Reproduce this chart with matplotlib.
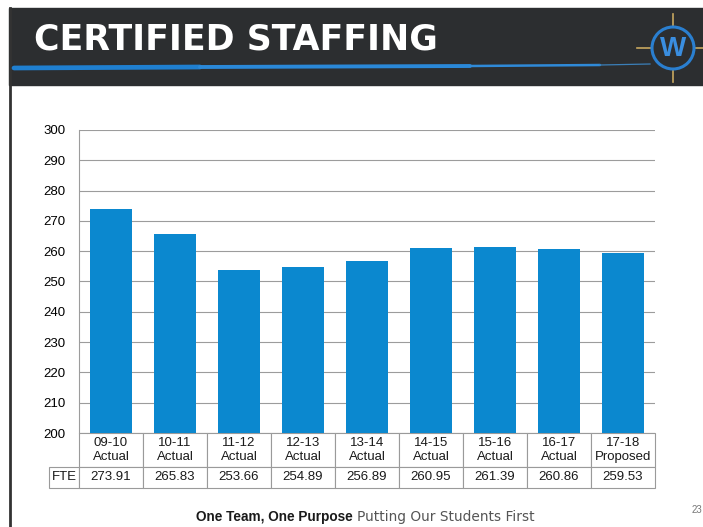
"""Certified staffing FTE by school year, bar chart with data table."""

import matplotlib
matplotlib.use("Agg")
import matplotlib.pyplot as plt
from matplotlib.patches import Rectangle, Circle

plt.rcParams["font.family"] = ["Liberation Sans", "DejaVu Sans"]

years = ["09-10", "10-11", "11-12", "12-13", "13-14", "14-15", "15-16", "16-17", "17-18"]
status = ["Actual"] * 8 + ["Proposed"]
fte = [273.91, 265.83, 253.66, 254.89, 256.89, 260.95, 261.39, 260.86, 259.53]
y_ticks = list(range(200, 301, 10))

BAR_COLOR = "#0b88cf"
HEADER_COLOR = "#2c2e30"

W, H = 703, 527
fig = plt.figure(figsize=(W / 100, H / 100), dpi=100)
fig.patch.set_facecolor("white")

# page decoration layer in pixel coordinates
deco = fig.add_axes([0, 0, 1, 1])
deco.set_xlim(0, W)
deco.set_ylim(H, 0)
deco.axis("off")

deco.add_patch(Rectangle((9, 8), W - 9, 77, color=HEADER_COLOR, zorder=1))
deco.plot([10, 10], [8, H], color="#333333", lw=2, zorder=2)
deco.text(34, 40, "CERTIFIED STAFFING", color="white", fontsize=25,
          family="DejaVu Sans", fontweight="bold", va="center", ha="left", zorder=3)

# blue brush streak
deco.plot([14, 200], [68, 67], color="#1f7fd0", lw=3.4, solid_capstyle="round", zorder=2)
deco.plot([200, 470], [67, 66], color="#2a88d8", lw=2.8, solid_capstyle="round", zorder=2)
deco.plot([470, 600], [66, 65], color="#2f8ad8", lw=1.8, solid_capstyle="round", zorder=2)
deco.plot([600, 650], [65, 64], color="#3b7fb8", lw=0.9, zorder=2)

# logo
cx, cy = 673, 48
deco.plot([cx, cx], [14, 82], color="#c8a860", lw=1.2, zorder=2)
deco.plot([cx - 36, cx + 36], [cy, cy], color="#c8a860", lw=1.2, zorder=2)
deco.add_patch(Circle((cx, cy), 21, facecolor=HEADER_COLOR, edgecolor="#2a7fd0", lw=2.2, zorder=3))
deco.text(cx, cy + 1, "W", color="#3a8ee0", fontsize=20, fontweight="bold",
          ha="center", va="center", zorder=4)

# footer
deco.text(353, 517, "One Team, One Purpose", fontsize=9.8, fontweight="bold",
          color="#1a1a1a", ha="right", va="center")
deco.text(357, 517, "Putting Our Students First", fontsize=9.9,
          family="DejaVu Sans", color="#555555", ha="left", va="center")
deco.text(692, 510, "23", fontsize=7, color="#777777", ha="left", va="center")

# chart
ax = fig.add_axes([79 / W, 1 - 433 / H, 576 / W, 303 / H])
x = range(len(years))
ax.bar(x, [v - 200 for v in fte], bottom=200, width=0.66, color=BAR_COLOR, zorder=3)
ax.set_xlim(-0.5, len(years) - 0.5)
ax.set_ylim(200, 300)
ax.set_yticks(y_ticks)
ax.tick_params(axis="y", length=0, pad=10, labelsize=9.5)
ax.set_xticks([])
ax.grid(axis="y", color="#9c9c9c", lw=0.8, zorder=0)
for side in ["top", "right", "bottom"]:
    ax.spines[side].set_visible(False)
ax.spines["left"].set_color("#9c9c9c")

# data table under the bars (bbox covers data cells only, row label sits left of it)
col_labels = [f"{y}\n{s}" for y, s in zip(years, status)]
cells = [[f"{v:.2f}" for v in fte]]
lab_w = 33 / 576
table = ax.table(cellText=cells, rowLabels=["FTE"], colLabels=col_labels,
                 cellLoc="center", rowLoc="center",
                 bbox=[0, -55 / 303, 1, 55 / 303])
table.auto_set_font_size(False)
table.set_fontsize(9.5)
for (r, c), cell in table.get_celld().items():
    cell.set_edgecolor("#9a9a9a")
    cell.set_linewidth(0.8)
    cell.set_width(lab_w if c == -1 else 1 / len(years))
    cell.set_height(34 if r == 0 else 21)
    cell.get_text().set_color("#1a1a1a")

fig.savefig("out.png", dpi=100)
